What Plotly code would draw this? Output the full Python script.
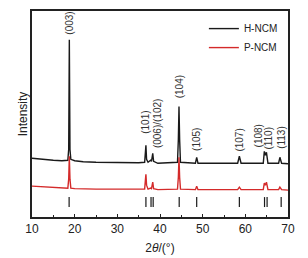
import plotly.graph_objects as go

# ---- data (arbitrary intensity units) ----
h_two_theta = [10, 12, 15, 17, 18.4, 18.6, 18.75, 18.9, 19.1, 20, 22, 25, 30, 35,
               36.4, 36.6, 36.7, 36.85, 37.2, 37.8, 38.0, 38.3, 38.5, 39.5,
               44.1, 44.3, 44.45, 44.6, 44.8, 48.3, 48.6, 48.9, 58.2, 58.6, 59.0,
               64.2, 64.45, 64.7, 64.95, 65.3, 67.8, 68.1, 68.5, 70]
h_intensity = [59, 58, 57, 56.5, 57, 68, 178, 68, 58, 56.5, 55.5, 55, 54.5, 54.5,
               55, 68, 72, 58, 55, 57, 56, 64, 56, 54,
               55, 78, 111, 78, 55, 54, 60, 54, 54, 61, 54,
               54, 66, 62, 65, 54, 54, 60, 54, 53.5]

p_two_theta = h_two_theta
p_intensity = [31, 30.5, 29.5, 29, 29, 38, 61, 38, 29, 28.5, 28, 28, 28, 28,
               28, 38, 43, 32, 28, 29, 28.5, 35, 28.5, 27.5,
               28, 40, 60, 40, 28, 27.5, 31, 27.5, 27.5, 30, 27.5,
               27.5, 34, 32, 35, 27.5, 27.5, 30, 27.5, 27]

ref_positions = [18.7, 36.7, 37.9, 38.4, 44.5, 48.6, 58.6, 64.5, 65.1, 68.4]

hkl_labels = ["(003)", "(101)", "(006)/(102)", "(104)", "(105)", "(107)",
              "(108)", "(110)", "(113)"]
hkl_x = [18.75, 36.7, 39.6, 44.5, 48.7, 58.7, 63.1, 65.5, 68.6]
hkl_y = [181, 82, 67, 117, 64, 64, 68, 66, 66]

series_names = ["H-NCM", "P-NCM"]
ref_bar_low, ref_bar_high = 10, 20

# ---- figure ----
fig = go.Figure()
fig.add_trace(go.Scatter(x=h_two_theta, y=h_intensity, mode="lines",
                         name=series_names[0],
                         line=dict(color="#1a1a1a", width=1.4)))
fig.add_trace(go.Scatter(x=p_two_theta, y=p_intensity, mode="lines",
                         name=series_names[1],
                         line=dict(color="#d42a2a", width=1.4)))

bx, by = [], []
for p in ref_positions:
    bx += [p, p, None]
    by += [ref_bar_low, ref_bar_high, None]
fig.add_trace(go.Scatter(x=bx, y=by, mode="lines", showlegend=False,
                         line=dict(color="#1a1a1a", width=1.2)))

for lab, x, y in zip(hkl_labels, hkl_x, hkl_y):
    fig.add_annotation(x=x, y=y, text=lab, textangle=-90, showarrow=False,
                       xanchor="center", yanchor="bottom",
                       font=dict(size=10, color="#333", family="Liberation Sans"))

fig.update_layout(
    width=300, height=250,
    margin=dict(l=24, r=20, t=3, b=41),
    paper_bgcolor="white", plot_bgcolor="white",
    font=dict(family="Liberation Sans", color="#222"),
    showlegend=True,
    legend=dict(x=0.98, y=0.985, xanchor="right", yanchor="top",
                bgcolor="rgba(0,0,0,0)", font=dict(size=10),
                itemwidth=30, tracegroupgap=0),
    xaxis=dict(range=[10, 70], dtick=10, tick0=10, showgrid=False,
               showline=True, linecolor="#222", linewidth=1.5, mirror=True,
               ticks="inside", ticklen=3, tickcolor="#222",
               minor=dict(dtick=5, ticks="inside", ticklen=2, tickcolor="#222"),
               tickfont=dict(size=12), automargin=False,
               title=dict(text="2<i>θ</i>/(°)", font=dict(size=12), standoff=8),
               zeroline=False),
    yaxis=dict(range=[0, 207], showticklabels=False, ticks="", showgrid=False,
               showline=True, linecolor="#222", linewidth=1.5, mirror=True,
               automargin=False,
               title=dict(text="Intensity", font=dict(size=12), standoff=0),
               zeroline=False),
)

fig.write_html("out.html")
